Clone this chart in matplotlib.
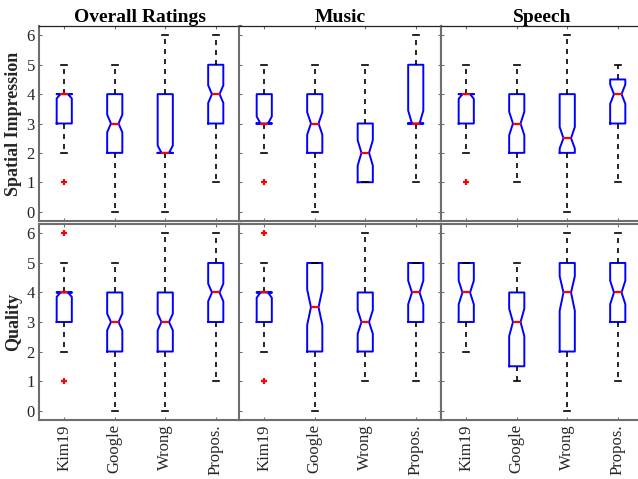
import matplotlib
matplotlib.use("Agg")
from matplotlib import pyplot as plt

methods = ["Kim19", "Google", "Wrong", "Propos."]
columns = ["Overall Ratings", "Music", "Speech"]
rows = ["Spatial Impression", "Quality"]

# one tuple per method: (whislo, q1, med, q3, whishi, cilo, cihi)
spatial_overall = [(2, 3, 4, 4, 5, 3.85, 4.0), (0, 2, 3, 4, 5, 2.7, 3.3),
                   (0, 2, 2, 4, 6, 2.0, 2.25), (1, 3, 4, 5, 6, 3.7, 4.3)]
spatial_music = [(2, 3, 3, 4, 5, 3.0, 3.24), (0, 2, 3, 4, 5, 2.62, 3.38),
                 (1, 1, 2, 3, 5, 1.57, 2.43), (1, 3, 3, 5, 6, 3.0, 3.44)]
spatial_speech = [(2, 3, 4, 4, 5, 3.84, 4.0), (1, 2, 3, 4, 5, 2.6, 3.4),
                  (0, 2, 2.5, 4, 6, 2.15, 2.88), (1, 3, 4, 4.5, 5, 3.67, 4.33)]
quality_overall = [(2, 3, 4, 4, 5, 3.85, 4.0), (0, 2, 3, 4, 5, 2.72, 3.28),
                   (0, 2, 3, 4, 6, 2.72, 3.28), (1, 3, 4, 5, 6, 3.7, 4.3)]
quality_music = [(2, 3, 4, 4, 5, 3.82, 4.0), (0, 2, 3.5, 5, 5, 2.9, 4.1),
                 (1, 2, 3, 4, 6, 2.6, 3.4), (1, 3, 4, 5, 5, 3.6, 4.4)]
quality_speech = [(2, 3, 4, 5, 5, 3.6, 4.4), (1, 1.5, 3, 4, 5, 2.52, 3.45),
                  (0, 2, 4, 5, 6, 3.38, 4.55), (1, 3, 4, 5, 6, 3.6, 4.4)]

# outliers per method
spatial_overall_fliers = [[1], [], [], []]
spatial_music_fliers = [[1], [], [], []]
spatial_speech_fliers = [[1], [], [], []]
quality_overall_fliers = [[6, 1], [], [], []]
quality_music_fliers = [[6, 1], [], [], []]
quality_speech_fliers = [[], [], [], []]

yticks = [0, 1, 2, 3, 4, 5, 6]

panels = [[(spatial_overall, spatial_overall_fliers),
           (spatial_music, spatial_music_fliers),
           (spatial_speech, spatial_speech_fliers)],
          [(quality_overall, quality_overall_fliers),
           (quality_music, quality_music_fliers),
           (quality_speech, quality_speech_fliers)]]


def make_stats(boxes, fliers):
    stats = []
    for (lo, q1, med, q3, hi, cilo, cihi), fl in zip(boxes, fliers):
        stats.append(dict(whislo=lo, q1=q1, med=med, q3=q3, whishi=hi,
                          cilo=cilo, cihi=cihi, fliers=fl))
    return stats


def main():
    plt.rcParams["font.family"] = ["Liberation Serif", "DejaVu Serif"]
    W, H = 638, 479
    fig = plt.figure(figsize=(W / 100, H / 100), dpi=100)

    col_left = [39, 239, 441]
    col_w = 202
    row_top = [26, 224]
    row_bot = [221, 420]
    gray = "#6e6e6e"
    text_col = "#262626"

    for r in range(2):
        for c in range(3):
            ax = fig.add_axes([col_left[c] / W, 1 - row_bot[r] / H,
                               col_w / W, (row_bot[r] - row_top[r]) / H])
            boxes, fliers = panels[r][c]
            ax.bxp(make_stats(boxes, fliers), positions=[1, 2, 3, 4],
                   widths=0.3, capwidths=0.12, shownotches=True,
                   boxprops=dict(color="#0000ff", linewidth=1.4),
                   medianprops=dict(color="#ff0000", linewidth=1.6),
                   whiskerprops=dict(color="black", linewidth=1.2,
                                     linestyle=(0, (3, 3))),
                   capprops=dict(color="black", linewidth=1.2),
                   flierprops=dict(marker="+", markeredgecolor="#ff0000",
                                   markersize=5, markeredgewidth=1.6))
            ax.set_xlim(0.5, 4.5)
            ax.set_ylim(-0.32, 6.32)
            ax.set_yticks(yticks)
            ax.set_xticks([1, 2, 3, 4])
            ax.tick_params(direction="in", length=2.5, width=0.8, color=gray,
                           top=True, right=True, labelsize=12,
                           labelcolor=text_col, pad=3)
            for s in ax.spines.values():
                s.set_color(gray)
                s.set_linewidth(1.5)
            if r == 0:
                ax.spines["top"].set_color("#222222")
                ax.spines["top"].set_linewidth(0.9)
                ax.set_title(columns[c], fontsize=14, fontweight="bold",
                             pad=3, color="black")
                ax.set_xticklabels([])
            else:
                ax.set_xticklabels(methods, rotation=90)
            if c == 0:
                ax.set_ylabel(rows[r], fontsize=13, fontweight="bold",
                              labelpad=3, color=text_col)
            else:
                ax.set_yticklabels([])

    fig.savefig("out.png", dpi=100)


if __name__ == "__main__":
    main()
